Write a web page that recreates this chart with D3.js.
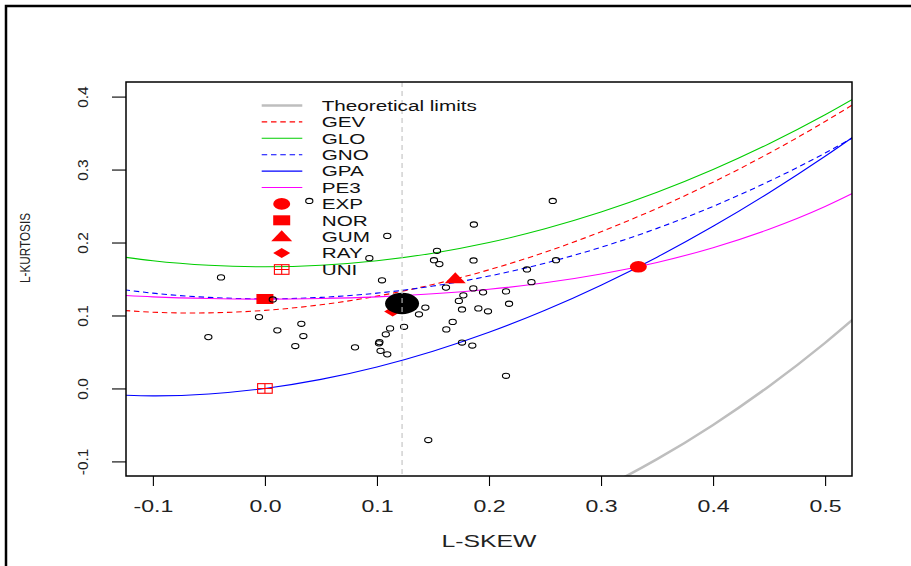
<!DOCTYPE html>
<html>
<head>
<meta charset="utf-8">
<script src="https://cdn.jsdelivr.net/npm/d3@7"></script>
<style>
  html, body { margin: 0; padding: 0; background: #fff; }
  svg { display: block; font-family: "Liberation Sans", Arial, sans-serif; }
</style>
</head>
<body>
<svg id="chart" width="911" height="566"></svg>
<script>
// ---- axis settings ----
const skewLim = [-0.1, 0.5];
const kurtLim = [-0.1, 0.4];
const skewTicks = [-0.1, 0.0, 0.1, 0.2, 0.3, 0.4, 0.5];
const kurtTicks = [-0.1, 0.0, 0.1, 0.2, 0.3, 0.4];

// ---- L-moment ratio diagram curves (tau3 grid and tau4 per distribution) ----
const tau3Grid = [-0.15, -0.1, -0.05, 0, 0.05, 0.1, 0.15, 0.2, 0.25, 0.3, 0.35, 0.4, 0.45, 0.5, 0.55];
const gevT4 = [0.1097, 0.1045, 0.1036, 0.1070, 0.1147, 0.1265, 0.1425, 0.1626, 0.1867, 0.2148, 0.2468, 0.2827, 0.3224, 0.3659, 0.4130];
const gloT4 = [0.1854, 0.1750, 0.1688, 0.1667, 0.1688, 0.1750, 0.1854, 0.2000, 0.2188, 0.2417, 0.2688, 0.3000, 0.3354, 0.3750, 0.4188];
const gnoT4 = [0.1403, 0.1306, 0.1248, 0.1228, 0.1248, 0.1306, 0.1403, 0.1540, 0.1717, 0.1935, 0.2194, 0.2495, 0.2839, 0.3226, 0.3657];
const gpaT4 = [-0.0077, -0.0102, -0.0076, 0, 0.0124, 0.0294, 0.0510, 0.0769, 0.1071, 0.1415, 0.1799, 0.2222, 0.2683, 0.3182, 0.3716];
const pe3T4 = [0.1297, 0.1255, 0.1232, 0.1224, 0.1232, 0.1255, 0.1297, 0.1359, 0.1448, 0.1569, 0.1727, 0.1929, 0.2182, 0.2493, 0.2869];

// lower theoretical bound of tau4 against tau3
const limitT3 = [0.25, 0.3, 0.35, 0.4, 0.45, 0.5, 0.55];
const limitT4 = [-0.1719, -0.1375, -0.0969, -0.05, 0.0031, 0.0625, 0.1281];

// two-parameter distributions (single points)
const specialNames = ["EXP", "NOR", "GUM", "RAY", "UNI"];
const specialT3 = [0.3333, 0, 0.1699, 0.1140, 0];
const specialT4 = [0.1667, 0.1226, 0.1504, 0.1054, 0];

// at-site sample L-skewness / L-kurtosis
const siteT3 = [0.0396, 0.2569, 0.1865, 0.1092, -0.0392, 0.0932, 0.1536, 0.1509, 0.1557, 0.1862,
                0.2598, 0.2339, 0.2379, 0.1045, 0.1616, 0.1860, 0.1947, 0.2152, 0.1771, 0.1731,
                0.2179, 0.1432, 0.1759, 0.1905, 0.1991, 0.1375, 0.1676, 0.1117, 0.1242, 0.1619,
                0.1079, 0.1018, 0.1022, 0.0804, 0.1032, 0.1092, 0.1759, 0.1851, 0.2152, 0.1458,
                0.0070, -0.0053, 0.0325, 0.0111, 0.0343, -0.0505, 0.0271];
const siteT4 = [0.2570, 0.2570, 0.2247, 0.2091, 0.1522, 0.1786, 0.1886, 0.1758, 0.1704, 0.1754,
                0.1758, 0.1631, 0.1457, 0.1482, 0.1382, 0.1371, 0.1317, 0.1330, 0.1276, 0.1200,
                0.1161, 0.1108, 0.1083, 0.1097, 0.1057, 0.1016, 0.0912, 0.0823, 0.0845, 0.0809,
                0.0742, 0.0618, 0.0635, 0.0563, 0.0515, 0.0467, 0.0629, 0.0588, 0.0173, -0.0707,
                0.1220, 0.0978, 0.0886, 0.0796, 0.0718, 0.0704, 0.0581];

// regional average
const meanT3 = 0.1224;
const meanT4 = 0.1165;

const legendLabels = ["Theoretical limits", "GEV", "GLO", "GNO", "GPA", "PE3", "EXP", "NOR", "GUM", "RAY", "UNI"];

// ---- layout ----
const svg = d3.select("#chart");
const plot = { left: 126, right: 852, top: 82, bottom: 476 };

function extend(lim) { const d = (lim[1] - lim[0]) * 0.04; return [lim[0] - d, lim[1] + d]; }
const x = d3.scaleLinear().domain(extend(skewLim)).range([plot.left, plot.right]);
const y = d3.scaleLinear().domain(extend(kurtLim)).range([plot.bottom, plot.top]);

svg.append("rect").attr("width", 911).attr("height", 566).attr("fill", "#fff");

// figure frame (top and left edges)
svg.append("path").attr("d", "M6,566 V6 H911").attr("fill", "none")
   .attr("stroke", "#000").attr("stroke-width", 2.5);

svg.append("clipPath").attr("id", "clip").append("rect")
   .attr("x", plot.left).attr("y", plot.top)
   .attr("width", plot.right - plot.left).attr("height", plot.bottom - plot.top);

const g = svg.append("g").attr("clip-path", "url(#clip)");

const curveLine = (xs, ys) => d3.line().curve(d3.curveNatural)
  .x((d, i) => x(xs[i])).y((d, i) => y(ys[i]))(xs);

const curveStyles = [
  { name: "GEV", vals: gevT4, color: "#FF0000", dash: "5.5,3.8" },
  { name: "GLO", vals: gloT4, color: "#00CD00", dash: null },
  { name: "GNO", vals: gnoT4, color: "#0000FF", dash: "5.5,3.8" },
  { name: "GPA", vals: gpaT4, color: "#0000FF", dash: null },
  { name: "PE3", vals: pe3T4, color: "#FF00FF", dash: null }
];

g.append("path").attr("d", curveLine(limitT3, limitT4))
  .attr("fill", "none").attr("stroke", "#BEBEBE").attr("stroke-width", 2.5);

curveStyles.forEach(c => {
  g.append("path").attr("d", curveLine(tau3Grid, c.vals))
    .attr("fill", "none").attr("stroke", c.color).attr("stroke-width", 1.1)
    .attr("stroke-dasharray", c.dash);
});

// marker shapes for the two-parameter distributions
function drawMarker(sel, name, cx, cy) {
  const red = "#FF0000";
  if (name === "EXP") {
    sel.append("ellipse").attr("cx", cx).attr("cy", cy).attr("rx", 8.5).attr("ry", 5.8).attr("fill", red);
  } else if (name === "NOR") {
    sel.append("rect").attr("x", cx - 8.5).attr("y", cy - 5).attr("width", 17).attr("height", 10).attr("fill", red);
  } else if (name === "GUM") {
    sel.append("path").attr("d", `M${cx - 10.5},${cy + 4.5} L${cx + 10.5},${cy + 4.5} L${cx},${cy - 6.5} Z`).attr("fill", red);
  } else if (name === "RAY") {
    sel.append("path").attr("d", `M${cx - 8.5},${cy} L${cx},${cy - 5} L${cx + 8.5},${cy} L${cx},${cy + 5} Z`).attr("fill", red);
  } else if (name === "UNI") {
    sel.append("rect").attr("x", cx - 7.3).attr("y", cy - 4.8).attr("width", 14.6).attr("height", 9.6)
      .attr("fill", "none").attr("stroke", red).attr("stroke-width", 1.1);
    sel.append("path").attr("d", `M${cx - 7.3},${cy} H${cx + 7.3} M${cx},${cy - 4.8} V${cy + 4.8}`)
      .attr("stroke", red).attr("stroke-width", 1.1);
  }
}

specialNames.forEach((n, i) => drawMarker(g, n, x(specialT3[i]), y(specialT4[i])));

// sample points
g.selectAll("ellipse.site").data(siteT3).enter().append("ellipse")
  .attr("class", "site")
  .attr("cx", (d, i) => x(siteT3[i])).attr("cy", (d, i) => y(siteT4[i]))
  .attr("rx", 3.6).attr("ry", 2.6)
  .attr("fill", "none").attr("stroke", "#000").attr("stroke-width", 1.1);

// regional mean
g.append("ellipse").attr("cx", x(meanT3)).attr("cy", y(meanT4))
  .attr("rx", 17).attr("ry", 10.7).attr("fill", "#000");

g.append("line").attr("x1", x(meanT3)).attr("x2", x(meanT3))
  .attr("y1", plot.top).attr("y2", plot.bottom)
  .attr("stroke", "#C0C0C0").attr("stroke-width", 1.1).attr("stroke-dasharray", "5,4");

// ---- legend ----
const leg = svg.append("g");
const legY0 = 105.5, legStep = 16.4;
legendLabels.forEach((lab, i) => {
  const yc = legY0 + i * legStep;
  if (i === 0) {
    leg.append("line").attr("x1", 261.7).attr("x2", 302.3).attr("y1", yc).attr("y2", yc)
      .attr("stroke", "#BEBEBE").attr("stroke-width", 2.5);
  } else if (i <= 5) {
    const c = curveStyles[i - 1];
    leg.append("line").attr("x1", 261.7).attr("x2", 302.3).attr("y1", yc).attr("y2", yc)
      .attr("stroke", c.color).attr("stroke-width", 1.1).attr("stroke-dasharray", c.dash);
  } else {
    drawMarker(leg, lab, 281.7, yc);
  }
  leg.append("text").text(lab)
    .attr("transform", `translate(321.7,${yc + 5.3}) scale(1.38,1)`)
    .attr("font-size", 15).attr("fill", "#111");
});

// ---- axes ----
const fmt = v => (Math.abs(v) < 1e-9 ? 0 : v).toFixed(1);

const ax = svg.append("g").attr("transform", `translate(0,${plot.bottom})`)
  .call(d3.axisBottom(x).tickValues(skewTicks).tickFormat(fmt).tickSize(10));
ax.select(".domain").remove();
ax.selectAll(".tick line").attr("stroke", "#000").attr("stroke-width", 1.1);
ax.selectAll(".tick text").attr("y", 36).attr("dy", null)
  .attr("transform", "scale(1.4,1)").attr("font-size", 16.5)
  .attr("font-family", "'Liberation Sans', Arial, sans-serif").attr("fill", "#222");

const ay = svg.append("g").attr("transform", `translate(${plot.left},0)`)
  .call(d3.axisLeft(y).tickValues(kurtTicks).tickFormat(fmt).tickSize(14));
ay.select(".domain").remove();
ay.selectAll(".tick line").attr("stroke", "#000").attr("stroke-width", 1.1);
ay.selectAll(".tick text").attr("x", null).attr("dy", null)
  .attr("transform", "translate(-38.5,0) rotate(-90)")
  .attr("text-anchor", "middle").attr("font-size", 15.5)
  .attr("font-family", "'Liberation Sans', Arial, sans-serif").attr("fill", "#222");

// plot box
svg.append("rect").attr("x", plot.left).attr("y", plot.top)
  .attr("width", plot.right - plot.left).attr("height", plot.bottom - plot.top)
  .attr("fill", "none").attr("stroke", "#000").attr("stroke-width", 1.5);

// axis titles
svg.append("text").text("L-SKEW")
  .attr("transform", `translate(${(plot.left + plot.right) / 2},547) scale(1.52,1)`)
  .attr("text-anchor", "middle").attr("font-size", 16.3).attr("fill", "#222");

svg.append("text").text("L-KURTOSIS")
  .attr("transform", "translate(29.5,248) rotate(-90)")
  .attr("text-anchor", "middle").attr("font-size", 15)
  .attr("textLength", 70).attr("lengthAdjust", "spacingAndGlyphs").attr("fill", "#222");
</script>
</body>
</html>
